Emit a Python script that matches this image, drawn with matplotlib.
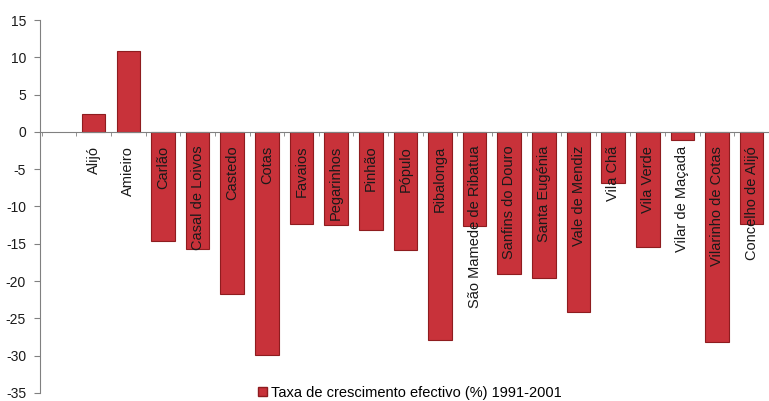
import numpy as np
import matplotlib
matplotlib.use("Agg")
from matplotlib import pyplot as plt
from matplotlib.patches import Patch

plt.rcParams['font.family'] = ['Liberation Sans', 'DejaVu Sans']
plt.rcParams['axes.unicode_minus'] = False

freguesias = ["Alijó", "Amieiro", "Carlão", "Casal de Loivos", "Castedo", "Cotas",
              "Favaios", "Pegarinhos", "Pinhão", "Pópulo", "Ribalonga",
              "São Mamede de Ribatua", "Sanfins do Douro", "Santa Eugénia",
              "Vale de Mendiz", "Vila Chã", "Vila Verde", "Vilar de Maçada",
              "Vilarinho de Cotas", "Concelho de Alijó"]
taxa = [2.4, 10.8, -14.6, -15.7, -21.7, -29.9, -12.3, -12.5, -13.1, -15.8, -27.9,
        -12.6, -19.0, -19.6, -24.1, -6.8, -15.4, -1.1, -28.2, -12.3]
serie = "Taxa de crescimento efectivo (%) 1991-2001"

fig = plt.figure(figsize=(7.69, 4.01), dpi=100)
ax = fig.add_axes([40 / 769, 8 / 401, 729 / 769, 373 / 401])
ax.set_axisbelow(False)  # labels drawn over the bars

x = np.arange(len(freguesias))
ax.bar(x, taxa, width=0.68, color='#c8323a', edgecolor='#8e1c1f', linewidth=0.8, zorder=1)

ax.set_ylim(-35, 15)
ax.set_yticks(np.arange(-35, 16, 5))
ax.set_xlim(-1.55, 19.25)

# x axis sits on the zero line, labels hang below it
ax.spines['bottom'].set_position(('data', 0))
ax.spines['bottom'].set_color('#808080')
ax.spines['left'].set_color('#808080')
ax.spines['top'].set_visible(False)
ax.spines['right'].set_visible(False)

ax.set_xticks(x)
ax.set_xticklabels(freguesias, rotation=90, fontsize=10.5, color='#1a1a1a')
ax.tick_params(axis='x', length=0, pad=10)
ax.set_xticks(np.arange(-1.5, 19.6, 1), minor=True)
ax.tick_params(axis='x', which='minor', length=3, direction='out', color='#808080')
ax.tick_params(axis='y', length=4, color='#808080', labelsize=10, labelcolor='#1a1a1a', pad=6)

fig.legend(handles=[Patch(facecolor='#c8323a', edgecolor='#8e1c1f', label=serie)],
           loc='center', bbox_to_anchor=(410 / 769, 1 - 393 / 401), frameon=False,
           fontsize=10.5, handlelength=0.6, handleheight=0.6, handletextpad=0.3)

plt.savefig('out.png', dpi=100)
